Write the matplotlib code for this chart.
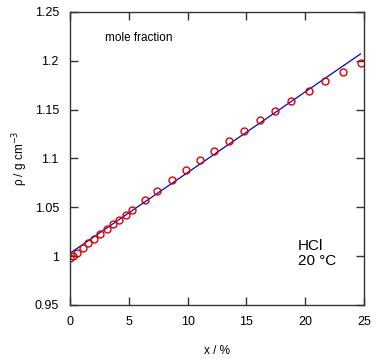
import numpy as np
import matplotlib.pyplot as plt

plt.rcParams['font.family'] = ['Liberation Sans', 'DejaVu Sans']

# measured densities, HCl in water at 20 C
x_meas = [0.03, 0.23, 0.6, 1.08, 1.56, 2.07, 2.55, 3.17, 3.68, 4.17, 4.76, 5.24,
          6.35, 7.42, 8.65, 9.86, 11.05, 12.25, 13.5, 14.8, 16.15, 17.4, 18.8,
          20.35, 21.7, 23.2, 24.75]
rho_meas = [0.998, 1.000, 1.003, 1.008, 1.013, 1.0176, 1.0224, 1.0275, 1.0326,
            1.037, 1.0425, 1.0473, 1.0575, 1.067, 1.078, 1.088, 1.098, 1.108,
            1.118, 1.1285, 1.139, 1.149, 1.159, 1.169, 1.179, 1.189, 1.198]

# linear fit line
x_fit = [0.0, 24.7]
rho_fit = [1.003, 1.207]

fig = plt.figure(figsize=(3.77, 3.61), dpi=100)
ax = fig.add_axes([70/377, 1 - 305/361, 294/377, 293/361])

ax.plot(x_fit, rho_fit, color='#0000cc', lw=0.9)
ax.plot(x_meas, rho_meas, 'o', mfc='none', mec='#dd0000', ms=5, mew=1.0)

ax.set_xlim(0, 25)
ax.set_ylim(0.95, 1.25)
ax.set_xticks([0, 5, 10, 15, 20, 25])
ax.set_yticks([0.95, 1.0, 1.05, 1.1, 1.15, 1.2, 1.25])
ax.set_yticklabels(['0.95', '1', '1.05', '1.1', '1.15', '1.2', '1.25'])
ax.tick_params(direction='in', length=6, width=1, colors='#333333',
               labelcolor='black', labelsize=9, top=True, right=True, pad=8)
for s in ax.spines.values():
    s.set_color('#333333')
    s.set_linewidth(1)

ax.set_xlabel('x / %', fontsize=8.5, labelpad=12)
ax.set_ylabel(r'ρ / g cm$^{-3}$', fontsize=8.5, labelpad=3)

ax.text(2.98, 1.223, 'mole fraction', fontsize=8.5, va='center')
ax.text(19.4, 1.018, 'HCl\n20 °C', fontsize=11, va='top', linespacing=1.1)

fig.savefig('out.png', dpi=100)
